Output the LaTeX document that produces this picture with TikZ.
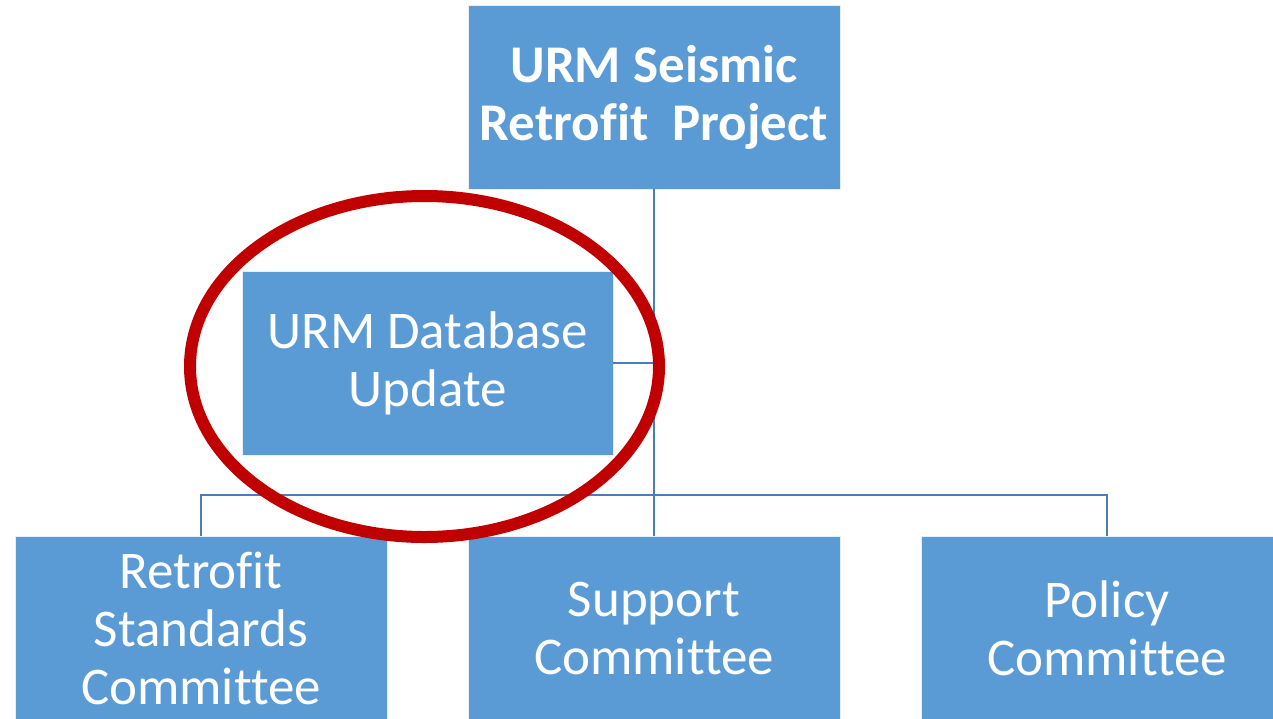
\documentclass[tikz,border=0pt]{standalone}
\usepackage{fontspec}
\setmainfont{Carlito}[Ligatures=NoCommon]
\definecolor{boxblue}{HTML}{5B9BD5}
\definecolor{linkblue}{HTML}{4A7EBB}
\definecolor{markred}{HTML}{C00000}
\begin{document}
\begin{tikzpicture}[x=1pt,y=-1pt,
  box/.style={fill=boxblue, draw=white!85!boxblue, line width=0.8pt,
    minimum width=372pt, minimum height=184pt, inner sep=0pt,
    text=white, align=center, font=\fontsize{53}{58}\selectfont},
  link/.style={draw=linkblue, line width=2.8pt},
  ring/.style={draw=markred, line width=12pt}]
\useasboundingbox (0,0) rectangle (1273,718);
\clip (0,0) rectangle (1273,718);

% boxes
\node[box, font=\bfseries\fontsize{53}{58}\selectfont] (proj) at (654,97) {URM Seismic\\Retrofit\ \ Project};
\node[box, minimum width=371pt] (db) at (427.5,363) {URM Database\\Update};
\node[box] (ret) at (201,628) {Retrofit\\Standards\\Committee};
\node[box] (sup) at (654,628) {Support\\Committee};
\node[box] (pol) at (1107,628) {Policy\\Committee};

% connectors
\coordinate (bar) at (654,495);
\draw[link] (proj.south) -- (sup.north);
\draw[link] (ret.north) |- (bar) -| (pol.north);
\draw[link] (db.east) -- (db.east -| proj.south);

% highlight ring
\draw[ring] (424.5,366.5) ellipse [x radius=234.5pt, y radius=170.5pt];
\end{tikzpicture}
\end{document}
